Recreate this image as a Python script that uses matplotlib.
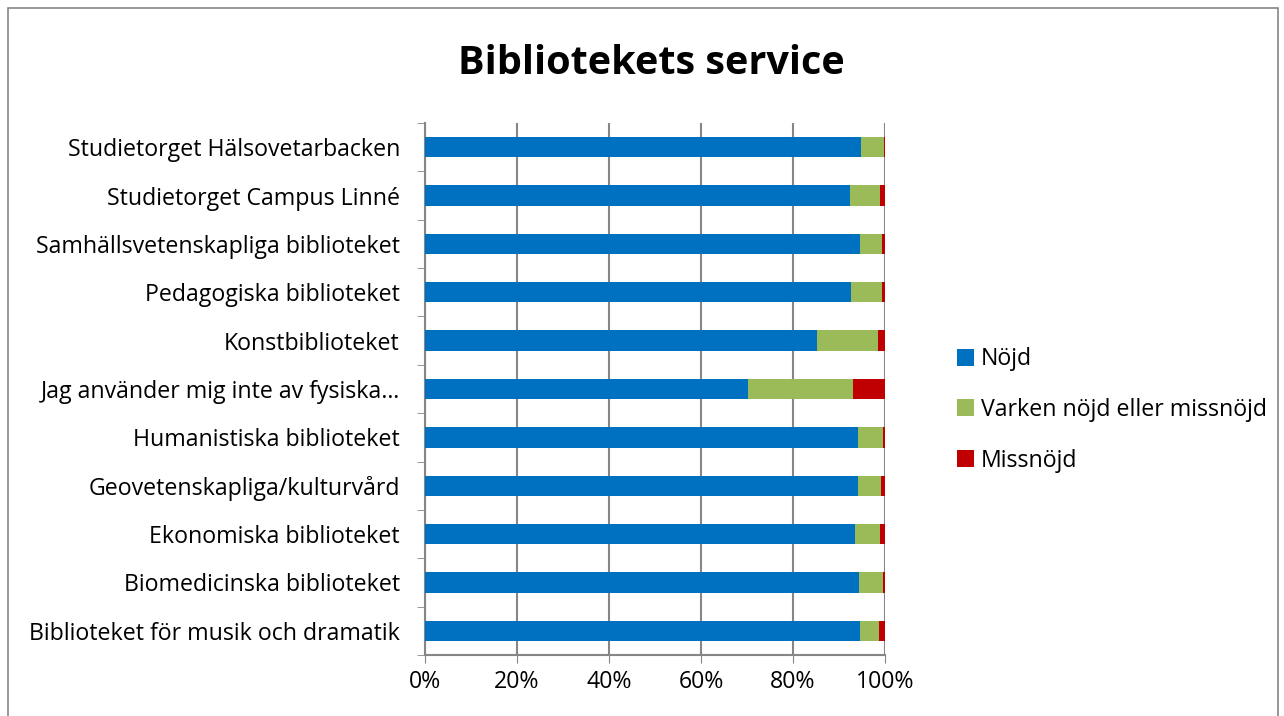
import matplotlib
matplotlib.use("Agg")
import matplotlib.pyplot as plt
from matplotlib.patches import Rectangle
import numpy as np

plt.rcParams['font.family'] = ['Open Sans', 'DejaVu Sans']

categories = [
    "Biblioteket för musik och dramatik",
    "Biomedicinska biblioteket",
    "Ekonomiska biblioteket",
    "Geovetenskapliga/kulturvård",
    "Humanistiska biblioteket",
    "Jag använder mig inte av fysiska…",
    "Konstbiblioteket",
    "Pedagogiska biblioteket",
    "Samhällsvetenskapliga biblioteket",
    "Studietorget Campus Linné",
    "Studietorget Hälsovetarbacken",
]
nojd = [94.5, 94.3, 93.5, 94.1, 94.1, 70.2, 85.2, 92.7, 94.6, 92.5, 94.8]
varken = [4.1, 5.3, 5.5, 5.0, 5.4, 22.9, 13.2, 6.6, 4.7, 6.5, 4.9]
missnojd = [1.4, 0.4, 1.0, 0.9, 0.5, 6.9, 1.6, 0.7, 0.7, 1.0, 0.3]
series_names = ["Nöjd", "Varken nöjd eller missnöjd", "Missnöjd"]
colors = ["#0070C0", "#9BBB59", "#C00000"]
xticks = [0, 20, 40, 60, 80, 100]

W, H = 1284, 716
fig = plt.figure(figsize=(W / 100, H / 100), dpi=100)
ax = fig.add_axes([425 / W, 1 - 655 / H, (885 - 425) / W, (655 - 123) / H])

y = np.arange(len(categories))
left = np.zeros(len(categories))
for vals, name, c in zip([nojd, varken, missnojd], series_names, colors):
    ax.barh(y, vals, left=left, height=0.42, color=c, label=name, zorder=3)
    left = left + np.array(vals)

FS = 16.7
ax.set_xlim(0, 100)
ax.set_ylim(-0.5, len(categories) - 0.5)
ax.set_xticks(xticks)
ax.set_xticklabels([f"{v}%" for v in xticks], fontsize=FS)
ax.set_yticks(y)
ax.set_yticklabels(categories, fontsize=FS)
ax.set_yticks(np.arange(-0.5, len(categories), 1), minor=True)
ax.tick_params(axis='y', which='major', length=0, pad=18)
ax.tick_params(axis='y', which='minor', length=6, color='#868686', direction='out')
ax.tick_params(axis='x', length=6, color='#868686', direction='out', pad=5)
ax.xaxis.grid(True, color='#868686', linewidth=1.5, zorder=0)
for s in ['top', 'right']:
    ax.spines[s].set_visible(False)
for s in ['left', 'bottom']:
    ax.spines[s].set_color('#868686')
    ax.spines[s].set_linewidth(1.5)

fig.text(651 / W, 1 - 63 / H, "Bibliotekets service", ha='center', va='center',
         fontsize=28.5, fontweight='bold')

handles, labels = ax.get_legend_handles_labels()
fig.legend(handles, labels, loc='center left', bbox_to_anchor=(936 / W, 1 - 410 / H),
           frameon=False, fontsize=FS, handlelength=0.75, handleheight=0.75,
           labelspacing=1.15, handletextpad=0.3)

fig.patches.append(Rectangle((8 / W, -0.05), (1278 - 8) / W, 1 - 8 / H + 0.05,
                             transform=fig.transFigure, fill=False,
                             edgecolor='#868686', linewidth=1.2))

fig.savefig("out.png", dpi=100, facecolor='white')
